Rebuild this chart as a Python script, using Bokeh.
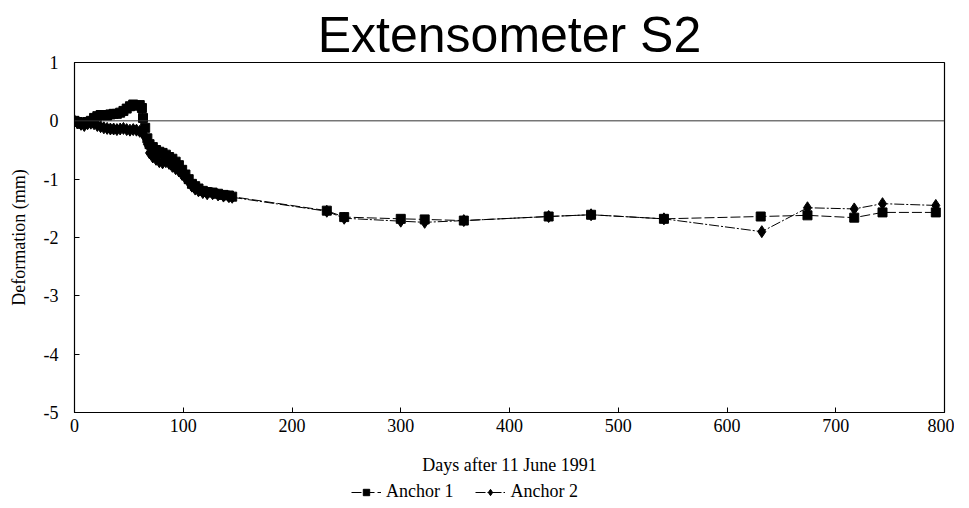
from bokeh.plotting import figure
from bokeh.layouts import column
from bokeh.models import Span, Legend, LegendItem, FixedTicker, Range1d
from bokeh.embed import file_html
from bokeh.resources import INLINE

# Anchor 1 (squares)
days_a1 = [0, 3, 6, 9, 12, 15, 18, 21, 24, 27, 30, 33, 36, 39, 42, 45, 48, 51, 54, 57, 60, 62, 63,
           65, 67, 69, 72, 75, 78, 81, 84, 87, 90, 93, 96, 99, 102, 105, 108, 111, 114, 118, 122,
           127, 132, 137, 142, 145, 232, 248, 300, 322, 358, 436, 475, 542, 631, 674, 717, 743, 792]
defo_a1 = [0.0, -0.02, -0.05, -0.03, -0.02, 0.0, 0.05, 0.08, 0.10, 0.10, 0.09, 0.11, 0.12, 0.12, 0.14,
           0.17, 0.21, 0.25, 0.28, 0.26, 0.27, 0.22, 0.05,
           -0.12, -0.30, -0.40, -0.45, -0.50, -0.53, -0.55, -0.58, -0.62, -0.65, -0.70, -0.76, -0.84,
           -0.92, -1.00, -1.08, -1.12, -1.16, -1.20, -1.22, -1.23, -1.25, -1.27, -1.28, -1.30,
           -1.54, -1.65, -1.68, -1.69, -1.71, -1.64, -1.61, -1.68, -1.64, -1.62, -1.66, -1.57, -1.57]

# Anchor 2 (diamonds)
days_a2 = [0, 3, 6, 9, 12, 15, 18, 21, 24, 27, 30, 33, 36, 39, 42, 45, 48, 51, 54, 57, 60, 63,
           65, 67, 69, 72, 75, 78, 81, 84, 87, 90, 93, 96, 99, 102, 105, 108, 111, 114, 118, 122,
           127, 132, 137, 142, 145, 232, 248, 300, 322, 358, 436, 475, 542, 632, 674, 717, 743, 792]
defo_a2 = [0.0, -0.03, -0.06, -0.08, -0.05, -0.04, -0.05, -0.08, -0.10, -0.12, -0.13, -0.14, -0.14,
           -0.15, -0.14, -0.13, -0.15, -0.16, -0.15, -0.16, -0.18, -0.22,
           -0.28, -0.40, -0.55, -0.62, -0.66, -0.70, -0.72, -0.70, -0.73, -0.78, -0.82, -0.86, -0.92,
           -0.98, -1.05, -1.12, -1.17, -1.20, -1.23, -1.25, -1.25, -1.27, -1.29, -1.30, -1.31,
           -1.55, -1.67, -1.72, -1.74, -1.71, -1.64, -1.61, -1.68, -1.90, -1.49, -1.51, -1.42, -1.45]

series_labels = ["Anchor 1", "Anchor 2"]
x_ticks = [0, 100, 200, 300, 400, 500, 600, 700, 800]
y_ticks = [1, 0, -1, -2, -3, -4, -5]
y_tick_labels = ["1", "0", "-1", "-2", "-3", "-4", "-5"]

SERIF = "Liberation Serif"
DASH1 = "10 3"
DASH2 = "10 2 2 2"

p = figure(frame_width=870, frame_height=350,
           min_border_left=74, min_border_right=10, min_border_top=62, min_border_bottom=66,
           x_range=Range1d(0, 800), y_range=Range1d(-5, 1),
           output_backend="svg", toolbar_location=None,
           title="Extensometer S2")

p.title.text_font = "Liberation Sans"
p.title.text_font_size = "50px"
p.title.text_font_style = "normal"
p.title.align = "center"
p.title.text_color = "black"
p.title.standoff = 0

p.xgrid.visible = False
p.ygrid.visible = False
p.outline_line_color = "black"
p.outline_line_width = 1.2

for ax in (p.xaxis[0], p.yaxis[0]):
    ax.axis_line_color = "black"
    ax.major_tick_in = 5
    ax.major_tick_out = 0
    ax.minor_tick_in = 0
    ax.minor_tick_out = 0
    ax.major_label_text_font = SERIF
    ax.major_label_text_font_size = "18px"
    ax.major_label_text_color = "black"
    ax.axis_label_text_font = SERIF
    ax.axis_label_text_font_size = "18px"
    ax.axis_label_text_font_style = "normal"
    ax.axis_label_text_color = "black"

p.xaxis.ticker = FixedTicker(ticks=x_ticks)
p.yaxis.ticker = FixedTicker(ticks=y_ticks)
p.yaxis.major_label_overrides = {t: s for t, s in zip(y_ticks, y_tick_labels)}
p.xaxis.axis_label = "Days after 11 June 1991"
p.yaxis.axis_label = "Deformation (mm)"
p.xaxis.major_label_standoff = 6
p.xaxis.axis_label_standoff = 20
p.yaxis.major_label_standoff = 16
p.yaxis.axis_label_standoff = 12

zero = Span(location=0, dimension="width", line_color="#333333", line_width=1)
p.add_layout(zero)

p.line(days_a1, defo_a1, line_color="black", line_width=1, line_dash=DASH1)
p.scatter(days_a1, defo_a1, marker="square", size=9, fill_color="black", line_color="black")
p.line(days_a2, defo_a2, line_color="black", line_width=1, line_dash=DASH2)
p.scatter(days_a2, defo_a2, marker="diamond", size=12, fill_color="black", line_color="black")

# Legend strip below the chart (its own figure so nothing clips it)
pl = figure(width=954, height=26, min_border=0,
            x_range=Range1d(-2000, -1990), y_range=Range1d(-5, 1),
            x_axis_type=None, y_axis_type=None,
            output_backend="svg", toolbar_location=None)
pl.outline_line_color = None
pl.xgrid.visible = False
pl.ygrid.visible = False
ll1 = pl.line(days_a1, defo_a1, line_color="black", line_width=1, line_dash=DASH1)
lm1 = pl.scatter(days_a1, defo_a1, marker="square", size=8, fill_color="black", line_color="black")
ll2 = pl.line(days_a2, defo_a2, line_color="black", line_width=1, line_dash=DASH2)
lm2 = pl.scatter(days_a2, defo_a2, marker="diamond", size=10, fill_color="black", line_color="black")

legend = Legend(items=[LegendItem(label=series_labels[0], renderers=[ll1, lm1]),
                       LegendItem(label=series_labels[1], renderers=[ll2, lm2])],
                orientation="horizontal", location=(277, 2),
                border_line_color=None, background_fill_alpha=0,
                label_text_font=SERIF, label_text_font_size="18px",
                label_text_color="black",
                glyph_width=30, glyph_height=16, label_height=16,
                spacing=22, padding=0, margin=0)
pl.add_layout(legend, "center")

layout = column(p, pl, spacing=0)
open("out.html", "w").write(file_html(layout, INLINE))
